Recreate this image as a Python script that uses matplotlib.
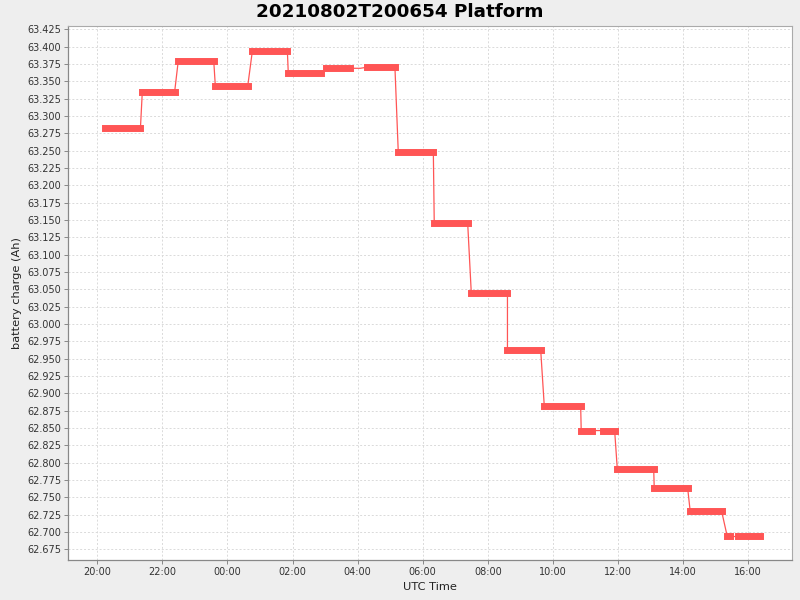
import matplotlib
matplotlib.use("Agg")
import matplotlib.pyplot as plt
import matplotlib.dates as mdates
import pandas as pd

# Segment data (start time, end time, battery charge in Ah)
seg_start = ["2021-08-02 20:15:00", "2021-08-02 21:23:00", "2021-08-02 22:29:20", "2021-08-02 23:37:40",
             "2021-08-03 00:45:50", "2021-08-03 01:52:10", "2021-08-03 03:01:40", "2021-08-03 04:04:20",
             "2021-08-03 04:16:40", "2021-08-03 05:15:00", "2021-08-03 06:21:20", "2021-08-03 07:29:40",
             "2021-08-03 08:36:20", "2021-08-03 09:44:10", "2021-08-03 10:52:20", "2021-08-03 11:33:00",
             "2021-08-03 11:58:50", "2021-08-03 13:07:00", "2021-08-03 14:13:20", "2021-08-03 15:21:40",
             "2021-08-03 15:42:00"]
seg_end = ["2021-08-02 21:19:30", "2021-08-02 22:22:40", "2021-08-02 23:34:40", "2021-08-03 00:37:20",
           "2021-08-03 01:50:30", "2021-08-03 02:51:50", "2021-08-03 03:45:20", "2021-08-03 04:05:00",
           "2021-08-03 05:08:50", "2021-08-03 06:19:40", "2021-08-03 07:23:00", "2021-08-03 08:36:20",
           "2021-08-03 09:37:40", "2021-08-03 10:51:20", "2021-08-03 11:11:40", "2021-08-03 11:54:00",
           "2021-08-03 13:06:00", "2021-08-03 14:08:40", "2021-08-03 15:11:20", "2021-08-03 15:26:00",
           "2021-08-03 16:21:20"]
seg_value = [63.2822, 63.3353, 63.3800, 63.3428, 63.3933, 63.3615, 63.3688, 63.3688,
             63.3703, 63.2476, 63.1452, 63.0442, 62.9620, 62.8824, 62.8463, 62.8463,
             62.7915, 62.7630, 62.7298, 62.6935, 62.6935]

x_min = "2021-08-02 19:06:30"
x_max = "2021-08-03 17:20:30"
y_min, y_max = 62.6596, 63.4298
y_ticks = [62.675 + 0.025 * i for i in range(31)]

title = "20210802T200654 Platform"
x_label = "UTC Time"
y_label = "battery charge (Ah)"

red = "#FF5555"
starts = pd.to_datetime(seg_start)
ends = pd.to_datetime(seg_end)

W, H = 800, 600
L, R, T, B = 68.3, 791.7, 26, 560
fig = plt.figure(figsize=(8, 6), dpi=100, facecolor="#EEEEEE")
ax = fig.add_axes([L / W, (H - B) / H, (R - L) / W, (B - T) / H])
ax.set_facecolor("white")

# thin connectors
xs, ys = [], []
for s, e, v in zip(starts, ends, seg_value):
    xs += [s, e]
    ys += [v, v]
ax.plot(xs, ys, color=red, linewidth=0.9, zorder=2)
# thick segments
for s, e, v in zip(starts, ends, seg_value):
    ax.plot([s, e], [v, v], color=red, linewidth=5.0, solid_capstyle="projecting", zorder=3)

ax.set_xlim(pd.Timestamp(x_min), pd.Timestamp(x_max))
ax.set_ylim(y_min, y_max)
ax.set_yticks(y_ticks)
ax.yaxis.set_major_formatter(matplotlib.ticker.FormatStrFormatter("%.3f"))
ax.xaxis.set_major_locator(mdates.HourLocator(byhour=range(0, 24, 2)))
ax.xaxis.set_major_formatter(mdates.DateFormatter("%H:%M"))

ax.grid(True, color="#DADADA", linestyle=(0, (2, 2)), linewidth=0.7, zorder=0)
ax.set_axisbelow(True)
for side in ["top", "right"]:
    ax.spines[side].set_color("#AAAAAA")
    ax.spines[side].set_linewidth(0.8)
for side in ["left", "bottom"]:
    ax.spines[side].set_color("#888888")
    ax.spines[side].set_linewidth(0.9)
ax.tick_params(axis="both", direction="out", length=3, width=0.7, color="#888888",
               labelsize=7.0, labelcolor="#333333", pad=2)

ax.set_xlabel(x_label, fontsize=8.2, color="#222222", va="center")
ax.set_ylabel(y_label, fontsize=8.2, color="#222222", va="center")
ax.xaxis.set_label_coords(0.5, (B - 586.5) / (B - T))
ax.yaxis.set_label_coords((17 - L) / (R - L), 0.5)
fig.text(0.5, 1 - 12 / 600, title, ha="center", va="center", fontsize=13.2, fontweight="bold")

fig.savefig("out.png", dpi=100, facecolor=fig.get_facecolor())
